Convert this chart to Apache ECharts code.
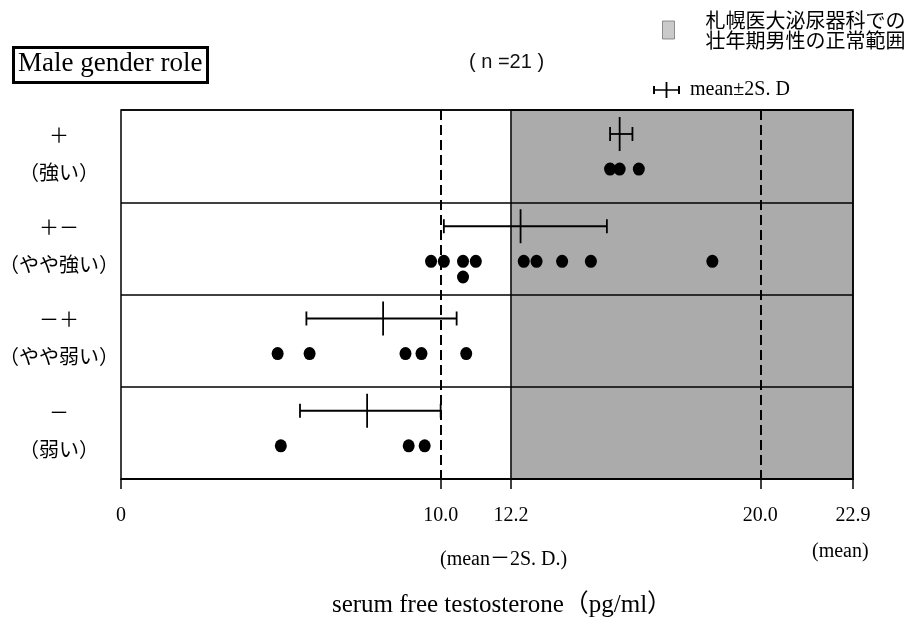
<!DOCTYPE html>
<html>
<head>
<meta charset="utf-8">
<title>Male gender role – serum free testosterone</title>
<script src="https://cdn.jsdelivr.net/npm/echarts@6/dist/echarts.min.js"></script>
<style>
  html, body { margin: 0; padding: 0; background: #fff; }
  #chart { width: 924px; height: 626px; }
</style>
</head>
<body>
<div id="chart"></div>
<script>
// ---- data -------------------------------------------------------------
const rowLabels = ['＋\n（強い）', '＋－\n（やや強い）', '－＋\n（やや弱い）', '－\n（弱い）'];

// mean and mean ± 2 S.D. for each group (pg/ml)
const groupMean = [15.6, 12.5, 8.2, 7.7];
const groupLow  = [15.3, 10.1, 5.8, 5.6];
const groupHigh = [16.0, 15.2, 10.5, 10.0];

// individual values for each group (pg/ml)
const valuesStrong       = [15.3, 15.6, 16.2];
const valuesRatherStrong = [9.7, 10.1, 10.7, 10.7, 11.1, 12.6, 13.0, 13.8, 14.7, 18.5];
const valuesRatherWeak   = [4.9, 5.9, 8.9, 9.4, 10.8];
const valuesWeak         = [5.0, 9.0, 9.5];
const groupValues = [valuesStrong, valuesRatherStrong, valuesRatherWeak, valuesWeak];

// reference values of the normal range
const axisTicks = [0, 10.0, 12.2, 20.0, 22.9];
const normalLow = 12.2;
const normalMean = 22.9;
const refLines = [10.0, 20.0];

const normalRangeName = '札幌医大泌尿器科での\n壮年期男性の正常範囲';
const errorBarName = 'mean±2S. D';

// ---- layout (row-relative positions) -------------------------------------
const LAYOUT = { barOffset: 0.26, dotOffset: 0.64, stackStep: 0.17 };

const serif = "'Liberation Serif', 'DejaVu Serif', 'Noto Sans CJK JP', serif";
const cjk = "'Noto Sans CJK JP', 'Noto Sans', sans-serif";

// error bar items: [y, low, mean, high]
const errorBarData = groupMean.map((m, r) => [r + LAYOUT.barOffset, groupLow[r], m, groupHigh[r]]);

// dots: equal values in a group are stacked below one another
const dotData = [];
groupValues.forEach((vals, r) => {
  const seen = {};
  vals.forEach(v => {
    const level = seen[v] || 0;
    seen[v] = level + 1;
    dotData.push([v, r + LAYOUT.dotOffset + level * LAYOUT.stackStep]);
  });
});

const chart = echarts.init(document.getElementById('chart'), null, { renderer: 'canvas' });

const option = {
  backgroundColor: '#ffffff',
  animation: false,
  title: [
    {
      text: 'Male gender role',
      left: 13, top: 47,
      padding: [3, 5, 6, 5],
      borderWidth: 3, borderColor: '#000',
      textStyle: { fontFamily: serif, fontSize: 27, fontWeight: 'normal', color: '#000' }
    },
    {
      text: '( n =21 )',
      left: 469, top: 52,
      padding: 0,
      textStyle: { fontFamily: "'Liberation Sans', 'Noto Sans', sans-serif", fontSize: 20, fontWeight: 'normal', color: '#111' }
    }
  ],
  legend: [
    {
      data: [{ name: normalRangeName, icon: 'rect' }],
      left: 662, top: 10,
      padding: 0,
      itemWidth: 12, itemHeight: 18,
      selectedMode: false,
      itemStyle: { borderColor: '#777', borderWidth: 1 },
      textStyle: { fontFamily: cjk, fontSize: 20, lineHeight: 20, color: '#000', padding: [0, 0, 0, 26] }
    },
    {
      data: [{ name: errorBarName, icon: 'path://M0,4h2v8h-2z M0,7.2h27v1.6h-27z M12.6,0h1.8v16h-1.8z M25,4h2v8h-2z' }],
      left: 653, top: 80,
      padding: 0,
      itemWidth: 27, itemHeight: 16,
      selectedMode: false,
      textStyle: { fontFamily: serif, fontSize: 20, color: '#000', padding: [0, 0, 0, 5] }
    }
  ],
  grid: {
    left: 121, top: 110, right: 71, bottom: 147,
    outerBoundsMode: 'none',
    containLabel: false,
    show: true, z: 10,
    borderColor: '#000', borderWidth: 1.5,
    backgroundColor: 'transparent'
  },
  xAxis: {
    type: 'value',
    min: 0, max: normalMean,
    name: 'serum free testosterone（pg/ml）',
    nameLocation: 'middle',
    nameGap: 114,
    nameTextStyle: { fontFamily: serif, fontSize: 25, color: '#000', padding: [0, 0, 0, 30] },
    axisLine: { show: true, onZero: false, lineStyle: { color: '#000', width: 1.5 } },
    axisTick: { show: true, inside: false, customValues: axisTicks, length: 10, lineStyle: { color: '#000', width: 1.5 } },
    axisLabel: {
      customValues: axisTicks,
      margin: 27,
      fontFamily: serif, fontSize: 20, color: '#000',
      formatter: v => (v === 0 ? '0' : v.toFixed(1))
    },
    splitLine: { show: false }
  },
  yAxis: [
    {
      type: 'value',
      min: 0, max: 4, interval: 1,
      inverse: true,
      position: 'right',
      z: 5,
      axisLine: { show: false },
      axisTick: { show: false },
      axisLabel: { show: false },
      splitLine: { show: true, lineStyle: { color: '#000', width: 1.5 } }
    },
    {
      type: 'category',
      data: rowLabels,
      inverse: true,
      position: 'left',
      axisLine: { show: false },
      axisTick: { show: false },
      splitLine: { show: false },
      axisLabel: {
        align: 'center',
        margin: 62,
        fontFamily: serif, fontSize: 20, lineHeight: 37, color: '#000'
      }
    }
  ],
  graphic: [
    {
      type: 'text', left: 440, top: 550,
      style: { text: '(mean－2S. D.)', font: "20px 'Liberation Serif', 'Noto Sans CJK JP', serif", fill: '#000' }
    },
    {
      type: 'text', left: 812, top: 542,
      style: { text: '(mean)', font: "20px 'Liberation Serif', serif", fill: '#000' }
    }
  ],
  series: [
    {
      // normal range (shaded band) of healthy adult men
      name: normalRangeName,
      type: 'scatter',
      yAxisIndex: 0,
      data: [],
      itemStyle: { color: '#bdbdbd' },
      markArea: {
        silent: true,
        itemStyle: { color: '#ababab', borderColor: '#000', borderWidth: 1.5 },
        data: [[{ xAxis: normalLow }, { xAxis: normalMean }]]
      }
    },
    {
      name: errorBarName,
      type: 'custom',
      yAxisIndex: 0,
      itemStyle: { color: '#000' },
      encode: { x: [1, 2, 3], y: 0 },
      data: errorBarData,
      renderItem: function (params, api) {
        const y = api.value(0);
        const lo = api.coord([api.value(1), y]);
        const mid = api.coord([api.value(2), y]);
        const hi = api.coord([api.value(3), y]);
        const st = { stroke: '#000', lineWidth: 1.8 };
        return {
          type: 'group',
          children: [
            { type: 'line', shape: { x1: lo[0], y1: lo[1], x2: hi[0], y2: hi[1] }, style: st },
            { type: 'line', shape: { x1: lo[0], y1: lo[1] - 7, x2: lo[0], y2: lo[1] + 7 }, style: st },
            { type: 'line', shape: { x1: hi[0], y1: hi[1] - 7, x2: hi[0], y2: hi[1] + 7 }, style: st },
            { type: 'line', shape: { x1: mid[0], y1: mid[1] - 17, x2: mid[0], y2: mid[1] + 17 }, style: st }
          ]
        };
      }
    },
    {
      name: 'values',
      type: 'scatter',
      yAxisIndex: 0,
      symbol: 'circle',
      symbolSize: [12, 13],
      itemStyle: { color: '#000', opacity: 1 },
      data: dotData,
      markLine: {
        silent: true,
        symbol: 'none',
        label: { show: false },
        lineStyle: { color: '#000', width: 2, type: [10, 5] },
        data: refLines.map(v => ({ xAxis: v }))
      }
    }
  ]
};

chart.setOption(option);
</script>
</body>
</html>
